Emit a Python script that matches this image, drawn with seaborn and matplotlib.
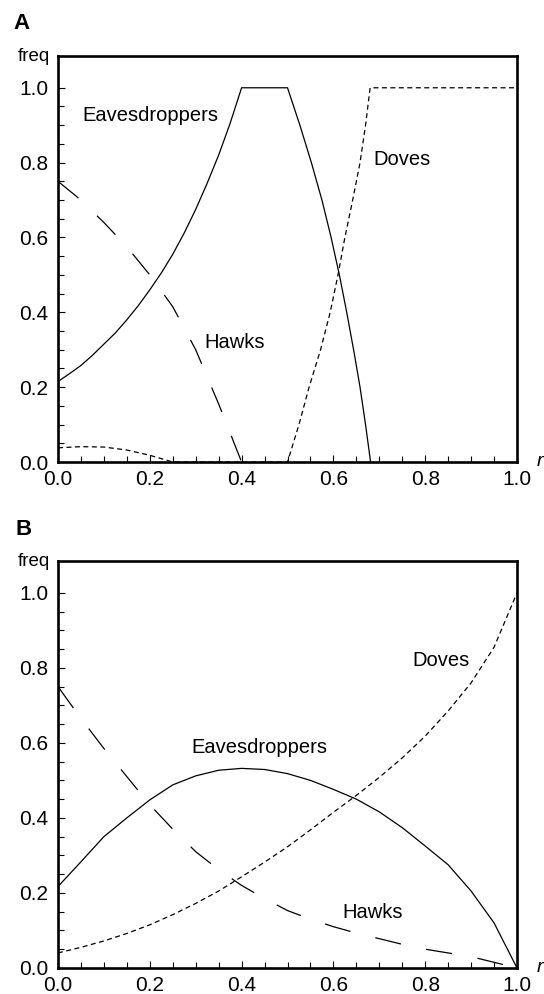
import matplotlib
matplotlib.use("Agg")
import matplotlib.pyplot as plt
import seaborn as sns
import numpy as np
from matplotlib.ticker import FixedLocator

# ---- panel A values ----
eaves_a_x = [0.0, 0.025, 0.05, 0.075, 0.10, 0.125, 0.15, 0.175, 0.20, 0.225, 0.25,
             0.275, 0.30, 0.325, 0.35, 0.375, 0.40, 0.50,
             0.527, 0.552, 0.575, 0.595, 0.613, 0.629, 0.644, 0.658, 0.670, 0.681]
eaves_a_y = [0.215, 0.236, 0.258, 0.285, 0.315, 0.345, 0.38, 0.418, 0.46, 0.505, 0.555,
             0.612, 0.675, 0.745, 0.82, 0.905, 1.0, 1.0,
             0.9, 0.8, 0.7, 0.6, 0.5, 0.4, 0.3, 0.2, 0.1, 0.0]
hawks_a_x = [0.0, 0.05, 0.10, 0.15, 0.20, 0.25, 0.30, 0.35, 0.40]
hawks_a_y = [0.75, 0.70, 0.64, 0.575, 0.50, 0.415, 0.30, 0.155, 0.0]
doves_a_x = [0.0, 0.05, 0.10, 0.15, 0.20, 0.25, 0.50, 0.525, 0.547, 0.572,
             0.593, 0.61, 0.625, 0.642, 0.658, 0.67, 0.68, 1.0]
doves_a_y = [0.038, 0.041, 0.04, 0.032, 0.018, 0.0, 0.0, 0.1, 0.2, 0.3,
             0.4, 0.5, 0.6, 0.7, 0.8, 0.9, 1.0, 1.0]

# ---- panel B values ----
r_b = [0.0, 0.05, 0.10, 0.15, 0.20, 0.25, 0.30, 0.35, 0.40, 0.45, 0.50,
       0.55, 0.60, 0.65, 0.70, 0.75, 0.80, 0.85, 0.90, 0.95, 1.0]
eaves_b_y = [0.217, 0.283, 0.35, 0.40, 0.448, 0.488, 0.512, 0.527, 0.532, 0.529, 0.518,
             0.50, 0.476, 0.45, 0.416, 0.374, 0.325, 0.275, 0.205, 0.12, 0.0]
hawks_b_y = [0.75, 0.665, 0.585, 0.51, 0.435, 0.37, 0.31, 0.262, 0.22, 0.185, 0.153,
             0.13, 0.11, 0.093, 0.078, 0.063, 0.05, 0.04, 0.03, 0.015, 0.0]
doves_b_y = [0.04, 0.055, 0.072, 0.092, 0.115, 0.142, 0.172, 0.205, 0.243, 0.282, 0.323,
             0.368, 0.415, 0.46, 0.508, 0.56, 0.618, 0.685, 0.76, 0.855, 1.0]

tick_vals = [0.0, 0.2, 0.4, 0.6, 0.8, 1.0]
tick_labels = ["0.0", "0.2", "0.4", "0.6", "0.8", "1.0"]

sns.set_style("ticks", {"axes.edgecolor": "black", "text.color": "black",
                        "xtick.color": "black", "ytick.color": "black"})
plt.rcParams["font.family"] = ["Liberation Sans", "DejaVu Sans"]
plt.rcParams["lines.scale_dashes"] = False

LONG = (0, (19.0, 18.5))
SHORT = (0, (3.6, 2.5))

fig = plt.figure(figsize=(5.44, 9.94), dpi=100)
ax_a = fig.add_axes([0.1066, 0.5352, 0.8438, 0.4085])
ax_b = fig.add_axes([0.1066, 0.0262, 0.8438, 0.4095])


def style_axes(ax):
    ax.set_xlim(0, 1.0)
    ax.set_ylim(0, 1.085)
    ax.set_xticks(tick_vals)
    ax.set_xticklabels(tick_labels)
    ax.set_yticks(tick_vals)
    ax.set_yticklabels(tick_labels)
    minor = np.round(np.arange(0, 1.0001, 0.05), 2)
    ax.xaxis.set_minor_locator(FixedLocator(minor))
    ax.yaxis.set_minor_locator(FixedLocator(minor))
    ax.tick_params(which="both", direction="in", top=False, right=False,
                   width=0.8, labelsize=15)
    ax.tick_params(axis="x", which="major", pad=6)
    ax.tick_params(axis="y", which="major", pad=7)
    ax.tick_params(which="major", length=5)
    ax.tick_params(which="minor", length=4)
    for s in ax.spines.values():
        s.set_linewidth(1.9)
        s.set_visible(True)
    ax.set_xlabel("")
    ax.set_ylabel("")
    ax.text(-0.017, 0.988, "freq", transform=ax.transAxes, ha="right",
            va="baseline", fontsize=13.5)
    ax.text(1.043, -0.01, "r", transform=ax.transAxes, ha="left",
            va="baseline", fontsize=14, style="italic")


# panel A
sns.lineplot(x=eaves_a_x, y=eaves_a_y, ax=ax_a, color="black", lw=0.9,
             sort=False, estimator=None)
sns.lineplot(x=hawks_a_x, y=hawks_a_y, ax=ax_a, color="black", lw=0.9,
             sort=False, estimator=None, linestyle=LONG)
sns.lineplot(x=doves_a_x, y=doves_a_y, ax=ax_a, color="black", lw=0.9,
             sort=False, estimator=None, linestyle=SHORT)
style_axes(ax_a)
ax_a.text(0.054, 0.925, "Eavesdroppers", fontsize=14.5, va="center")
ax_a.text(0.686, 0.808, "Doves", fontsize=14.5, va="center")
ax_a.text(0.318, 0.32, "Hawks", fontsize=14.5, va="center")

# panel B
sns.lineplot(x=r_b, y=eaves_b_y, ax=ax_b, color="black", lw=0.9,
             sort=False, estimator=None)
sns.lineplot(x=r_b, y=hawks_b_y, ax=ax_b, color="black", lw=0.9,
             sort=False, estimator=None, linestyle=LONG)
sns.lineplot(x=r_b, y=doves_b_y, ax=ax_b, color="black", lw=0.9,
             sort=False, estimator=None, linestyle=SHORT)
style_axes(ax_b)
ax_b.text(0.29, 0.587, "Eavesdroppers", fontsize=14.5, va="center")
ax_b.text(0.773, 0.82, "Doves", fontsize=14.5, va="center")
ax_b.text(0.62, 0.149, "Hawks", fontsize=14.5, va="center")

fig.text(0.024, 0.9708, "A", fontsize=16, fontweight="bold", va="baseline")
fig.text(0.0276, 0.4618, "B", fontsize=16, fontweight="bold", va="baseline")

fig.savefig("out.png", dpi=100)
plt.close(fig)
